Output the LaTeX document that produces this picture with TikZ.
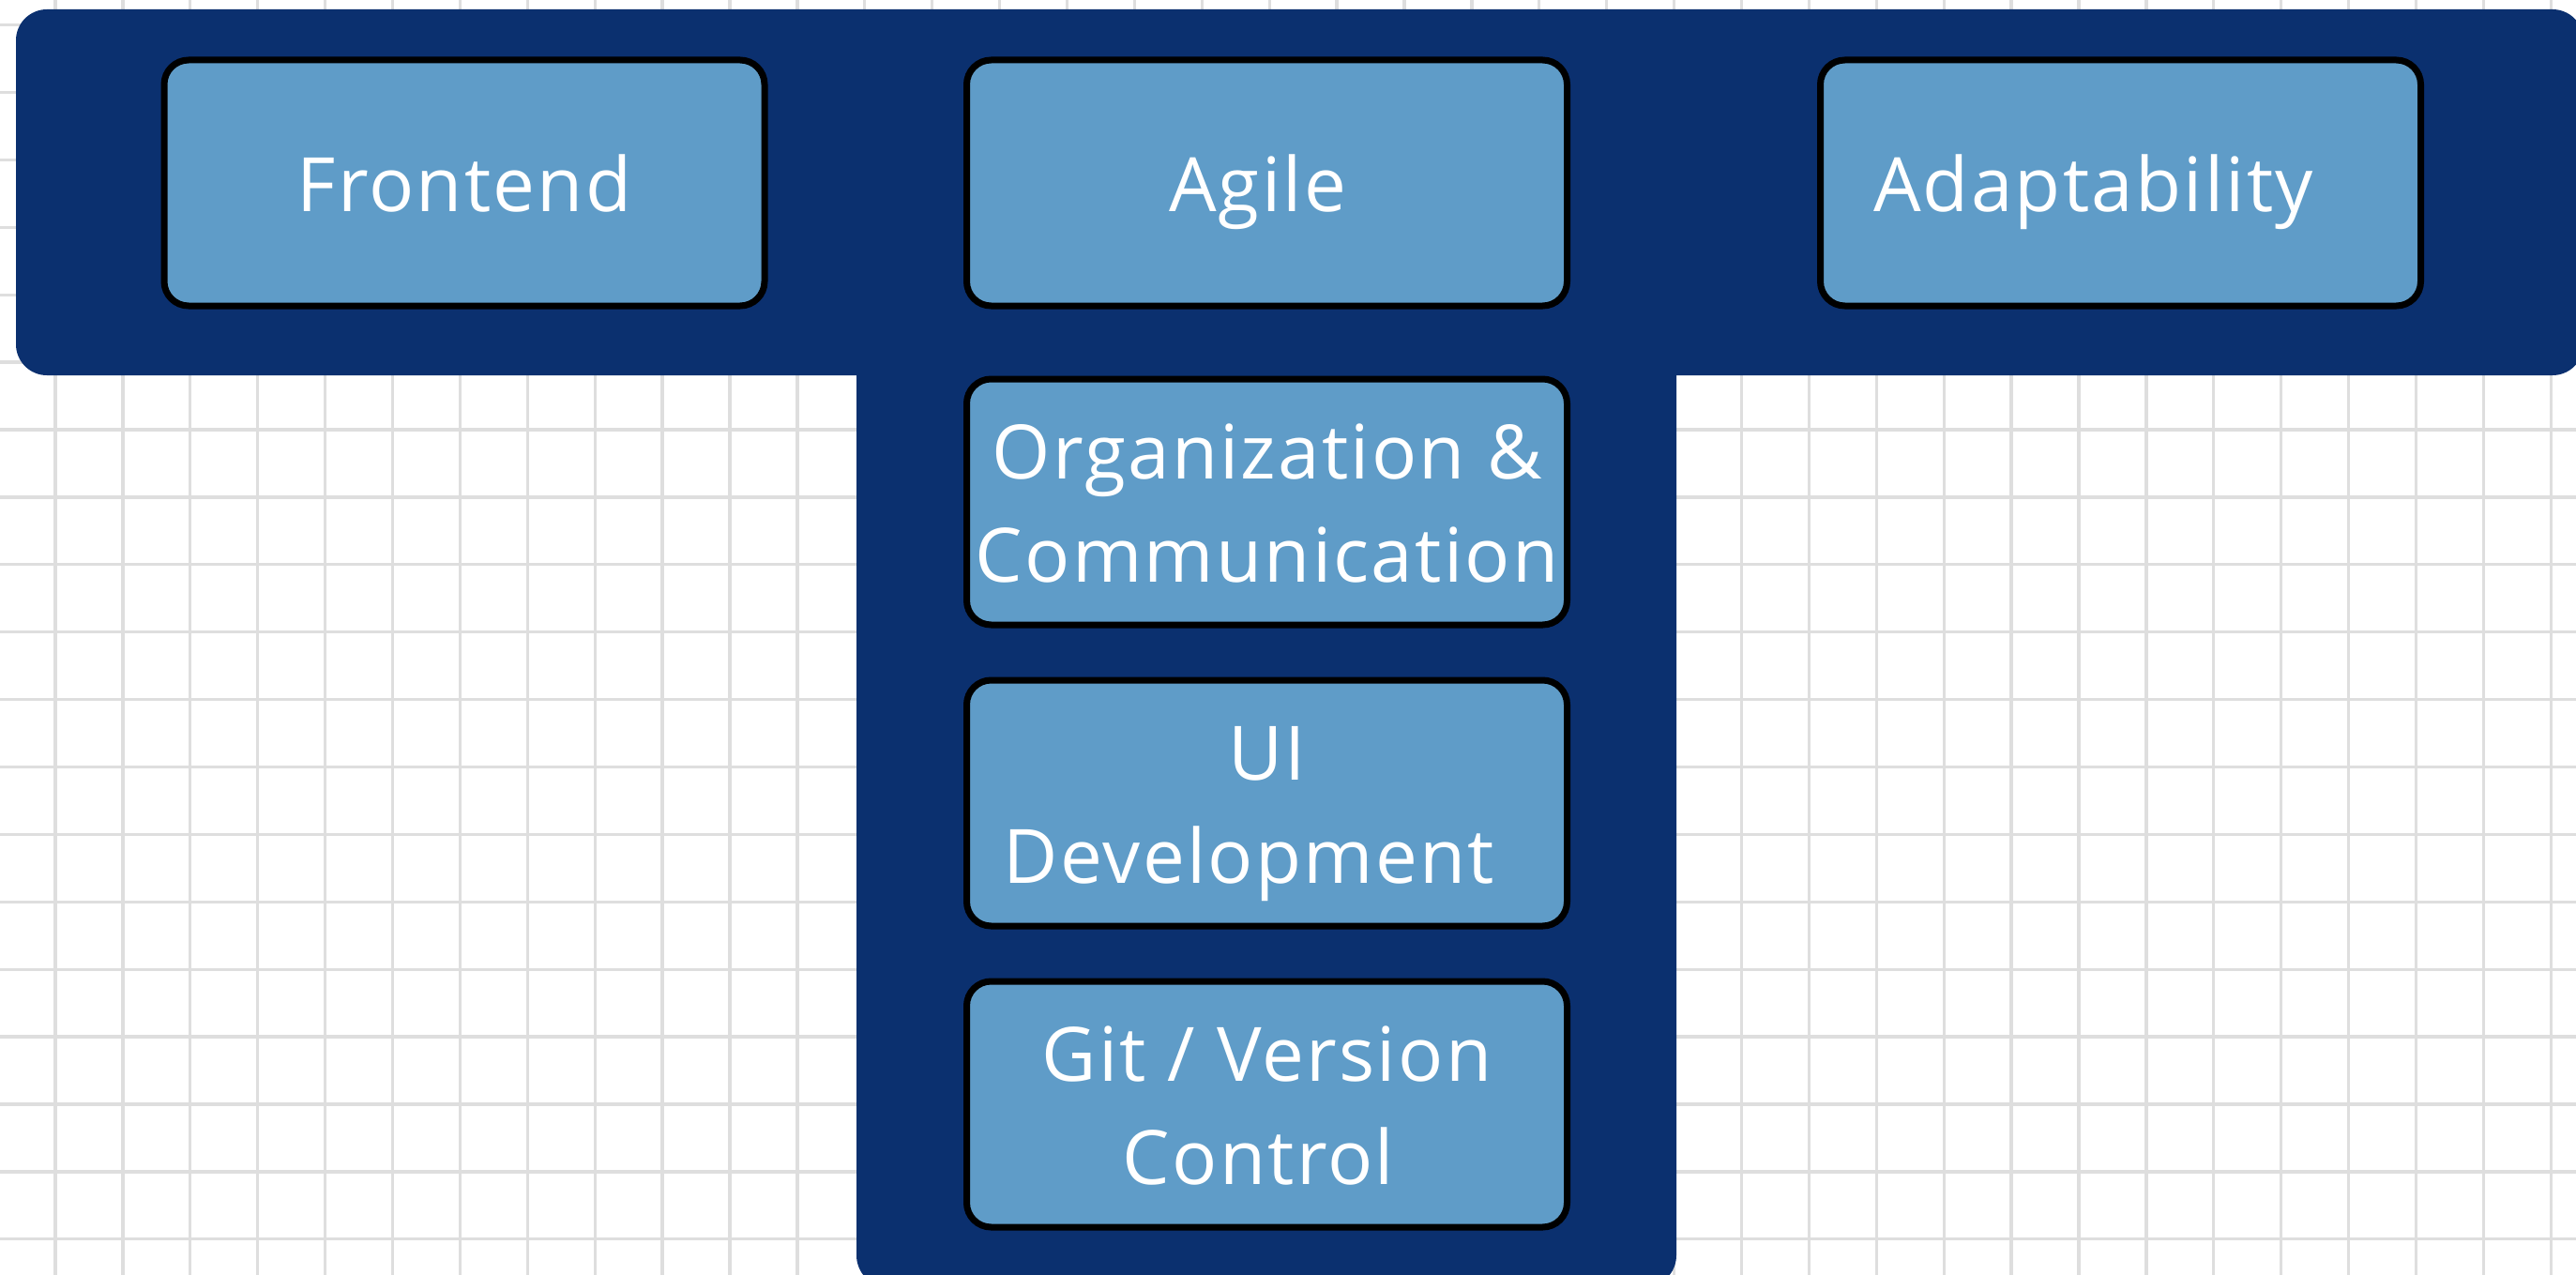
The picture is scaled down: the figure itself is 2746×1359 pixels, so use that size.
\documentclass[tikz,border=0pt]{standalone}
\usepackage{fontspec}
\setmainfont{Open Sans}[LetterSpace=2.8]
\definecolor{navy}{HTML}{0B306F}
\definecolor{boxblue}{HTML}{5F9CC8}
\definecolor{gridgray}{HTML}{DEDEDE}
\begin{document}
\begin{tikzpicture}[x=0.5pt,y=-0.5pt,
  gridline/.style={draw=gridgray, line width=1.65pt},
  tshape/.style={fill=navy},
  box/.style={draw=black, line width=3.5pt, fill=boxblue, rounded corners=13pt,
    minimum width=320pt, minimum height=131pt, inner sep=0pt, text=white,
    font={\fontsize{40pt}{55pt}\selectfont}, align=center},
  oneline/.style={text height=30pt, text depth=0pt},
  twoline/.style={text height=85pt, text depth=0pt}]
\useasboundingbox (0,0) rectangle (2746,1359);
\fill[white] (0,0) rectangle (2746,1359);
% grid
\foreach \k in {0,...,18} \draw[gridline] (0,26.6+71.9*\k) -- (2746,26.6+71.9*\k);
\foreach \k in {0,...,37} \draw[gridline] (59+71.9*\k,0) -- (59+71.9*\k,1359);
% T shape
\fill[tshape, rounded corners=17pt] (913,300) rectangle (1787,1372);
\fill[tshape, rounded corners=16.5pt] (17,10) rectangle (2754,400);
% boxes
\node[box, oneline] (frontend) at (495,195) {Frontend};
\node[box, oneline] (agile) at (1350.5,195) {Agile\hspace*{10pt}};
\node[box, oneline] (adapt) at (2260.5,195) {Adaptability\hspace*{29pt}};
\node[box, twoline] (org) at (1350.5,535) {Organization \&\\Communication};
\node[box, twoline] (ui) at (1350.5,856) {UI\\Development\hspace*{19pt}};
\node[box, twoline] (git) at (1350.5,1177) {Git / Version\\Control\hspace*{9pt}};
\end{tikzpicture}
\end{document}
